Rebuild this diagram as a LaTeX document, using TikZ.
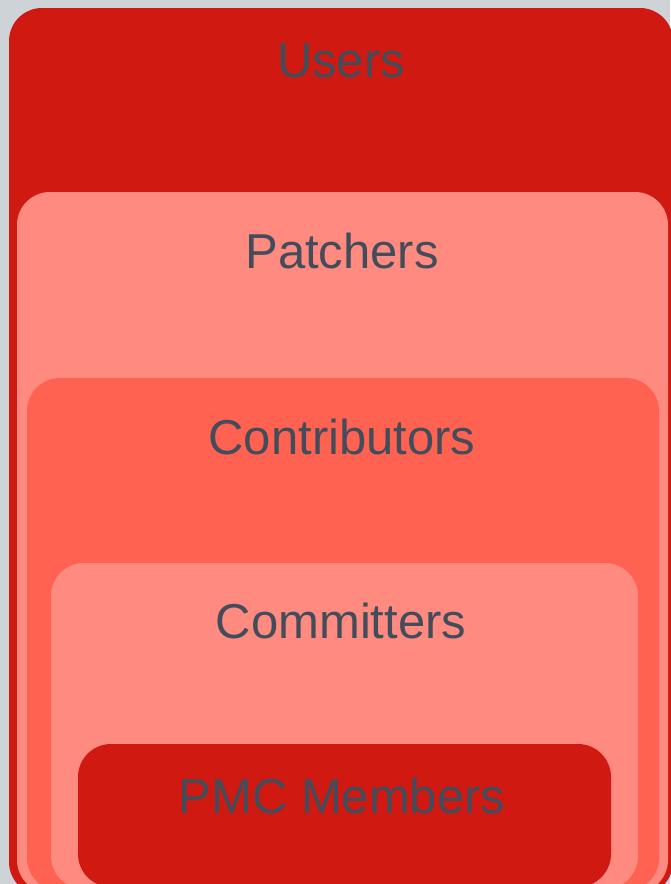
\documentclass[tikz,border=0pt]{standalone}
\usepackage{fontspec}
\setmainfont{Liberation Sans}
\definecolor{bggrey}{RGB}{206,211,216}
\definecolor{deepred}{RGB}{208,26,17}
\definecolor{lightred}{RGB}{255,138,128}
\definecolor{midred}{RGB}{255,98,80}
\definecolor{labelgrey}{RGB}{67,76,90}
\begin{document}
\begin{tikzpicture}[x=1pt,y=-1pt,
  tier/.style={rounded corners=33pt},
  tierlabel/.style={anchor=base,inner sep=0pt,text=labelgrey,font=\fontsize{49}{49}\selectfont}]
\useasboundingbox (0,0) rectangle (670,884);
\fill[bggrey] (0,0) rectangle (670,884);
% Users
\fill[deepred,tier] (9,8) rectangle (673,895);
\node[tierlabel] (users) at (341,77) {Users};
% Patchers
\fill[lightred,tier] (17,192) rectangle (668,893);
\node[tierlabel] (patchers) at (342,268) {Patchers};
% Contributors
\fill[midred,tier] (27,378) rectangle (659,891);
\node[tierlabel] (contributors) at (342,454) {Contributors};
% Committers
\fill[lightred,tier] (51,563) rectangle (638,889);
\node[tierlabel] (committers) at (341,638) {Committers};
% PMC Members
\fill[deepred,tier] (78,744) rectangle (611,887);
\node[tierlabel] (pmc) at (342,813) {PMC Members};
\end{tikzpicture}
\end{document}
